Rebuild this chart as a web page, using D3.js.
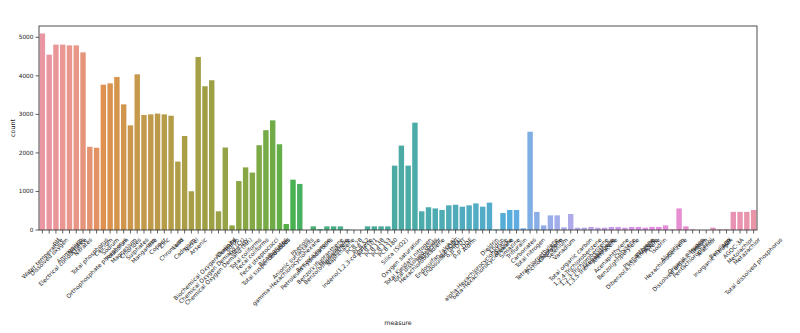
<!DOCTYPE html>
<html><head><meta charset="utf-8">
<script src="https://cdn.jsdelivr.net/npm/d3@7"></script>
<style>body{margin:0;background:#fff}svg{display:block}text{font-family:"DejaVu Sans",sans-serif;fill:#222}</style>
</head><body><svg id="c" width="800" height="333"></svg>
<script>
const categories = ["Water temperature","Dissolved oxygen","pH","Electrical conductance","Ammonium","Nitrites","Nitrates","Total phosphorus","Orthophosphate phosphorus","Calcium","Sodium","Potassium","Magnesium","Chlorides","Sulphates","Manganese","Iron","Copper","Zinc","Chromium","Lead","Cadmium","Nickel","Arsenic","Biochemical Oxygen Demand","Chemical Oxygen Demand (Cr)","Chemical Oxygen Demand (Mn)","Alkalinity","Boron","Mercury","Total coliforms","Fecal coliforms","Fecal streptococci","Total suspended solids","Bicarbonates","Fluorides","gamma-Hexachlorocyclohexane","Anionic surfactants","Phenols","Petroleum hydrocarbons","Benzo(a)pyrene","Benzo(k)fluoranthene","Benzo(b)fluoranthene","Fluoranthene","Naphthalene","Indeno(1,2,3-cd)pyrene","PCB 28","PCB 52","PCB 101","PCB 138","PCB 153","PCB 180","Silica (SiO2)","Oxygen saturation","Total Kjeldahl nitrogen","Total dissolved solids","Hexachlorobutadiene","Heptachlor","Endosulfan (alpha)","Endosulfan (beta)","p,p'-DDT","o,p'-DDT","p,p'-DDE","Aldrin","alpha-Hexachlorocyclohexane","beta-Hexachlorocyclohexane","Dieldrin","Endrin","Atrazine","Simazine","Trifluralin","Carbonates","Total nitrogen","Tetrachloroethylene","Trichloroethylene","Chloroform","Selenium","Vanadium","Total organic carbon","1,2,4-Trichlorobenzene","1,2,3-Trichlorobenzene","1,3,5-Trichlorobenzene","Acenaphthene","Anthracene","Acenaphthylene","Benzo(ghi)perylene","Chrysene","Dibenzo(a,h)anthracene","Phenanthrene","Fluorene","Pyrene","Isodrin","Hexachlorobenzene","Aluminium","Dissolved organic carbon","Organic nitrogen","Pentachlorophenol","Tritium","Alachlor","Inorganic nitrogen","Beryllium","AOX","AGOC-3A","Metolachlor","Metazachlor","Total dissolved phosphorus"];
const counts = [5100,4550,4810,4810,4790,4790,4610,2160,2135,3770,3805,3970,3260,2715,4040,2985,3000,3020,3000,2965,1775,2440,1005,4490,3730,3885,485,2140,120,1270,1625,1490,2200,2590,2845,2225,155,1305,1195,0,95,25,95,95,95,15,0,0,95,95,95,95,1670,2190,1670,2785,485,590,560,520,640,655,605,640,690,605,710,15,440,520,520,45,2550,470,120,380,380,70,415,60,60,80,60,60,80,80,60,80,80,60,80,80,120,15,560,95,15,0,0,60,15,15,470,470,470,520];
const yTicks = [0,1000,2000,3000,4000,5000];
const xTitle = "measure", yTitle = "count";

// seaborn husl palette
const Mx = [[3.2406,-1.5372,-0.4986],[-0.9689,1.8758,0.0415],[0.0557,-0.2040,1.0570]];
function maxChroma(L,H){const hr=H*Math.PI/180,s=Math.sin(hr),c=Math.cos(hr);const s1=Math.pow(L+16,3)/1560896;const s2=s1>0.008856?s1:L/903.3;let r=Infinity;for(const [m1,m2,m3] of Mx){const top=(0.99915*m1+1.05122*m2+1.14460*m3)*s2;const rb=0.86330*m3-0.17266*m2;const lb=0.12949*m3-0.38848*m1;const bot=(rb*s+lb*c)*s2;for(const t of [0,1]){const C=L*(top-1.05122*t)/(bot+0.17266*s*t);if(C>0&&C<r)r=C;}}return r;}
function husl2rgb(H,S,L){const C=maxChroma(L,H)/100*S;const hr=H*Math.PI/180;const U=Math.cos(hr)*C,V=Math.sin(hr)*C;const t=(L+16)/116;const vY=Math.pow(t,3)>0.008856?Math.pow(t,3):(116*t-16)/903.3;const vU=U/(13*L)+0.19784,vV=V/(13*L)+0.46834;const Y=vY;const X=-(9*Y*vU)/((vU-4)*vV-vU*vV);const Z=(9*Y-15*vV*Y-vV*X)/(3*vV);return Mx.map(r=>{let c=r[0]*X+r[1]*Y+r[2]*Z;c=c<=0.0031308?12.92*c:1.055*Math.pow(c,1/2.4)-0.055;return Math.max(0,Math.min(1,c));});}
const n = categories.length;
const colors = d3.range(n).map(i=>{let h=(i/n+0.01)%1*359;const [r,g,b]=husl2rgb(h,0.9*99,0.7*99);const hs=d3.hsl(d3.rgb(r*255,g*255,b*255));hs.s*=0.75;return hs.formatHex();});

const svg = d3.select("#c");
const L=39,R=757,T=26,B=230;
const x = d3.scaleBand().domain(categories).range([L,R]).paddingInner(0.2).paddingOuter(0.1);
const y = d3.scaleLinear().domain([0,5293]).range([B,T]);

svg.append("g").selectAll("rect").data(counts).join("rect")
  .attr("x",(d,i)=>x(categories[i])).attr("width",x.bandwidth())
  .attr("y",d=>y(d)).attr("height",d=>B-y(d)).attr("fill",(d,i)=>colors[i]);

// frame
svg.append("rect").attr("x",L).attr("y",T).attr("width",R-L).attr("height",B-T).attr("fill","none").attr("stroke","#3a3a3a").attr("stroke-width",0.9);

// y axis
const ya = svg.append("g");
yTicks.forEach(v=>{
  ya.append("line").attr("x1",L-3.5).attr("x2",L).attr("y1",y(v)).attr("y2",y(v)).attr("stroke","#3a3a3a").attr("stroke-width",0.8);
  ya.append("text").attr("x",L-5.5).attr("y",y(v)).attr("text-anchor","end").attr("dominant-baseline","central").attr("font-size",5.8).text(v);
});
// x axis
const xa = svg.append("g");
const fs=5.8;
categories.forEach((c,i)=>{
  const cx = x(c)+x.bandwidth()/2;
  xa.append("line").attr("x1",cx).attr("x2",cx).attr("y1",B).attr("y2",B+3.5).attr("stroke","#3a3a3a").attr("stroke-width",0.8);
  const t = xa.append("text").attr("text-anchor","middle").attr("dominant-baseline","central").attr("font-size",fs).text(c);
  const len = t.node().getComputedTextLength();
  const half = (len+fs*1.1)*0.7071/2;
  t.attr("transform",`translate(${cx},${B+6.5+half}) rotate(-45)`);
});
svg.append("text").attr("x",(L+R)/2).attr("y",322).attr("text-anchor","middle").attr("dominant-baseline","central").attr("font-size",6.3).text(xTitle);
svg.append("text").attr("transform",`translate(12.5,${(T+B)/2}) rotate(-90)`).attr("text-anchor","middle").attr("dominant-baseline","central").attr("font-size",6.3).text(yTitle);
</script></body></html>
